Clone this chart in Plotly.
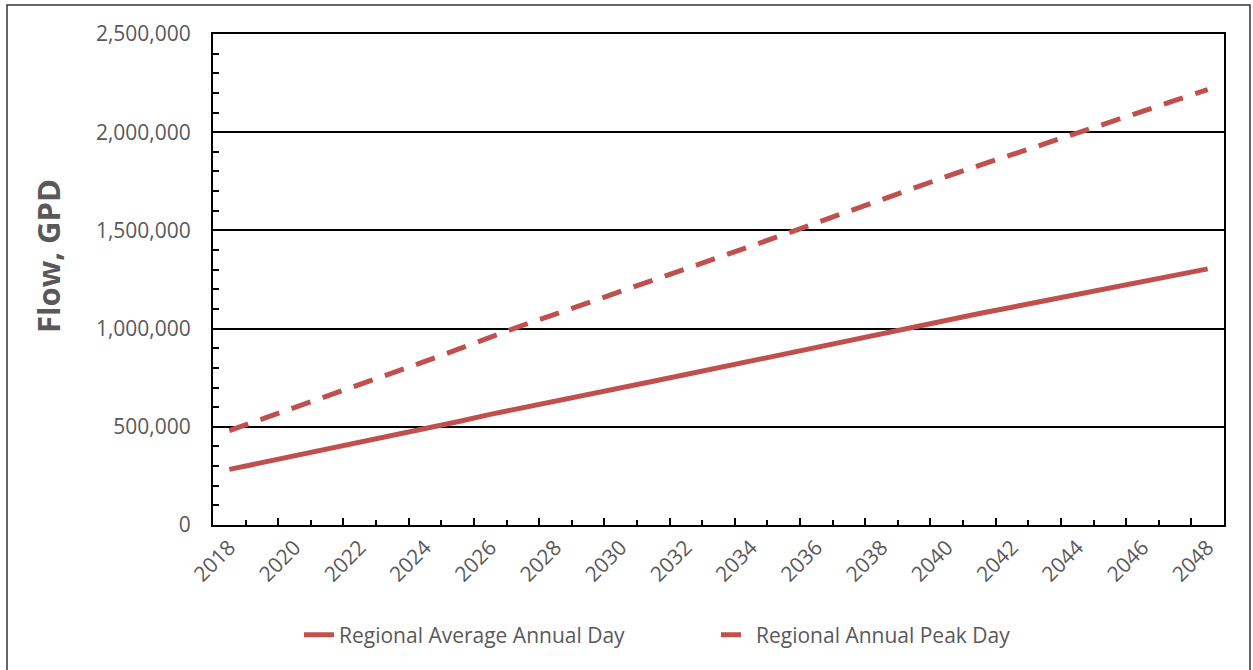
import plotly.graph_objects as go

# Projection years (one category per year)
years = list(range(2018, 2049))

# Regional flow projections, gallons per day
avg_annual_day = [283000, 317000, 351000, 386000, 420000, 455000, 490000, 526000,
                  563000, 598000, 632000, 665000, 698000, 732000, 766000, 801000,
                  835000, 870000, 905000, 939000, 974000, 1010000, 1044000, 1077000,
                  1109000, 1142000, 1175000, 1207000, 1239000, 1272000, 1304000]
annual_peak_day = [481000, 539000, 597000, 656000, 714000, 774000, 833000, 894000,
                   957000, 1017000, 1074000, 1131000, 1187000, 1244000, 1302000, 1362000,
                   1420000, 1479000, 1539000, 1596000, 1656000, 1717000, 1775000, 1831000,
                   1885000, 1941000, 1998000, 2052000, 2106000, 2162000, 2217000]

label_years = list(range(2018, 2049, 2))
series_names = ["Regional Average Annual Day", "Regional Annual Peak Day"]
y_title = "Flow, GPD"

LINE_COLOR = "#C0504D"
TEXT_COLOR = "#595959"
FONT = "Open Sans"

# plot-area geometry in pixels
W, H = 1253, 670
L, R, T, B = 213, 29, 34, 145
PW, PH = W - L - R, H - T - B


def px_x(px):
    return (px - L) / PW


def px_y(py):
    return (H - B - py) / PH


fig = go.Figure()
fig.add_trace(go.Scatter(x=years, y=avg_annual_day, mode="lines", name=series_names[0],
                         xaxis="x2", line=dict(color=LINE_COLOR, width=5)))
fig.add_trace(go.Scatter(x=years, y=annual_peak_day, mode="lines", name=series_names[1],
                         line=dict(color=LINE_COLOR, width=5, dash="20px,13px")))

x_lo, x_hi = years[0] - 0.5, years[-1] + 0.5
# category boundaries: long marks every other year, short ones in between
long_marks = [y + 0.5 for y in years[1::2]]
short_marks = [y + 0.5 for y in years[::2]]

fig.update_layout(
    width=W, height=H,
    margin=dict(l=L, r=R, t=T, b=B),
    paper_bgcolor="white", plot_bgcolor="white",
    font=dict(family=FONT, color=TEXT_COLOR, size=21),
    showlegend=True,
    legend=dict(orientation="h", x=px_x(299), xanchor="left", y=px_y(635), yanchor="middle",
                font=dict(size=21, color=TEXT_COLOR), entrywidth=372, entrywidthmode="pixels",
                bgcolor="rgba(0,0,0,0)"),
    xaxis=dict(range=[x_lo, x_hi], tickmode="array", tickvals=label_years,
               ticktext=[str(y) for y in label_years], tickangle=-45, ticks="",
               showgrid=False, zeroline=False, showline=True, linecolor="black", linewidth=2,
               mirror=True, tickfont=dict(size=21, color=TEXT_COLOR)),
    xaxis2=dict(range=[x_lo, x_hi], overlaying="x", anchor="y", side="bottom",
                matches="x", tickmode="array", tickvals=long_marks, ticks="inside",
                ticklen=7, tickwidth=2, tickcolor="black", showticklabels=False,
                showgrid=False, zeroline=False, showline=False,
                minor=dict(tickmode="array", tickvals=short_marks, ticks="inside",
                           ticklen=5, tickwidth=2, tickcolor="black", showgrid=False)),
    yaxis=dict(range=[0, 2500000], dtick=500000, tickformat=",", ticks="inside",
               ticklen=6, tickwidth=2, tickcolor="black",
               showgrid=True, gridcolor="black", gridwidth=1.5, zeroline=False,
               showline=True, linecolor="black", linewidth=2, mirror=True,
               tickfont=dict(size=21, color=TEXT_COLOR), ticklabelstandoff=16,
               minor=dict(dtick=100000, ticks="inside", ticklen=6, tickwidth=2,
                          tickcolor="black", showgrid=False)),
)

# axis title
fig.add_annotation(text="<b>" + y_title + "</b>", xref="paper", yref="paper",
                   x=px_x(48), y=px_y(256), textangle=-90, showarrow=False,
                   xanchor="center", yanchor="middle",
                   font=dict(family=FONT, size=31, color=TEXT_COLOR))

# chart frame
fig.add_shape(type="rect", xref="paper", yref="paper",
              x0=px_x(7), x1=px_x(1250), y0=px_y(680), y1=px_y(5),
              line=dict(color="#333333", width=1.5), fillcolor="rgba(0,0,0,0)", layer="below")

fig.write_html("out.html")
